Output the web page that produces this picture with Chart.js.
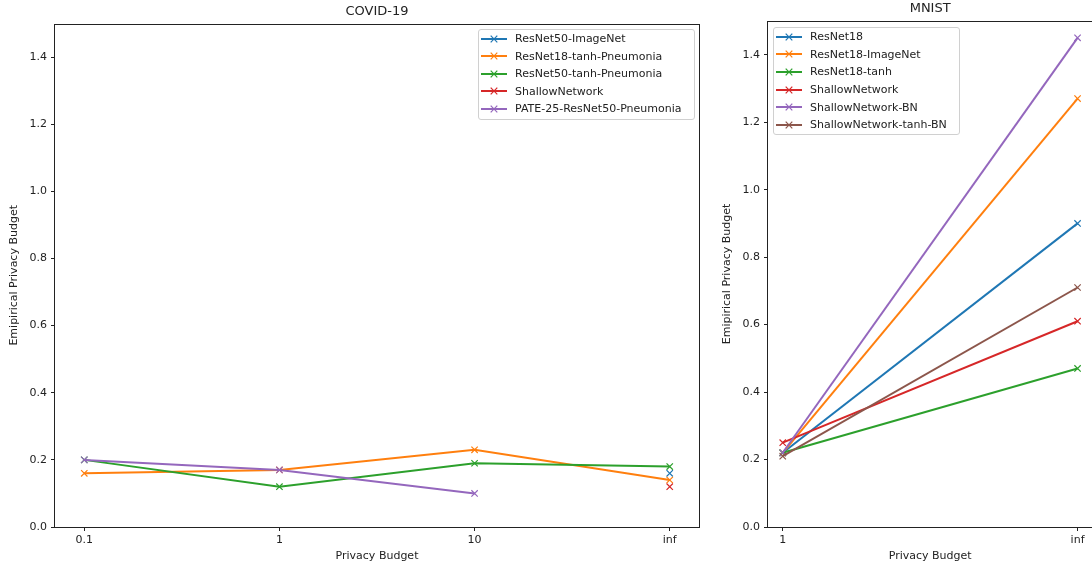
<!DOCTYPE html>
<html>
<head>
<meta charset="utf-8">
<script src="https://cdn.jsdelivr.net/npm/chart.js@4.4.0/dist/chart.umd.min.js"></script>
<style>
  html, body { margin: 0; padding: 0; background: #fff; overflow: hidden; width: 1092px; height: 570px; }
  canvas { position: absolute; top: 0; }
  #covid { left: 0; }
  #mnist { left: 710px; }
  .legend { position: absolute; background: rgba(255,255,255,0.8); border: 1px solid #d0d0d0; border-radius: 3px;
            font-family: "DejaVu Sans", sans-serif; font-size: 11px; color: #222; box-sizing: border-box; }
  .legend .row { display: flex; align-items: center; white-space: nowrap; }
  .legend svg { margin: 0 8px 0 2px; flex: none; }
</style>
</head>
<body>
<canvas id="covid" width="705" height="570"></canvas>
<canvas id="mnist" width="388" height="570"></canvas>
<div id="covidLegend" class="legend" style="left:478px;top:29px;width:217px;height:91px;"></div>
<div id="mnistLegend" class="legend" style="left:773px;top:27px;width:187px;height:108px;"></div>
<script>
// data
const covidBudgets = ['0.1', '1', '10', 'inf'];
const covidNames = ['ResNet50-ImageNet', 'ResNet18-tanh-Pneumonia', 'ResNet50-tanh-Pneumonia', 'ShallowNetwork', 'PATE-25-ResNet50-Pneumonia'];
const covidResNet50ImageNet = [null, null, null, 0.16];
const covidResNet18Tanh = [0.16, 0.17, 0.23, 0.14];
const covidResNet50Tanh = [0.20, 0.12, 0.19, 0.18];
const covidShallow = [null, null, null, 0.12];
const covidPate = [0.20, 0.17, 0.10, null];

const mnistBudgets = ['1', 'inf'];
const mnistNames = ['ResNet18', 'ResNet18-ImageNet', 'ResNet18-tanh', 'ShallowNetwork', 'ShallowNetwork-BN', 'ShallowNetwork-tanh-BN'];
const mnistResNet18 = [0.22, 0.90];
const mnistResNet18ImageNet = [0.22, 1.27];
const mnistResNet18Tanh = [0.22, 0.47];
const mnistShallow = [0.25, 0.61];
const mnistShallowBN = [0.22, 1.45];
const mnistShallowTanhBN = [0.21, 0.71];

const yTickValues = [0, 0.2, 0.4, 0.6, 0.8, 1.0, 1.2, 1.4];
const tab10 = ['#1f77b4', '#ff7f0e', '#2ca02c', '#d62728', '#9467bd', '#8c564b'];

const fontFamily = '"DejaVu Sans", sans-serif';
const ink = '#222';
Chart.defaults.font.family = fontFamily;

// matplotlib style box around the axes
const boxPlugin = {
  id: 'box',
  afterDraw(chart) {
    const a = chart.chartArea, ctx = chart.ctx;
    ctx.save();
    ctx.strokeStyle = ink;
    ctx.lineWidth = 1;
    ctx.strokeRect(Math.round(a.left) - 0.5, Math.round(a.top) + 0.5,
                   Math.round(a.right - a.left) + 1, Math.round(a.bottom - a.top));
    ctx.restore();
  }
};

function makeChart(id, title, labels, names, series, cfg) {
  const margin = 0.05 * (labels.length - 1);
  const datasets = series.map((vals, i) => ({
    label: names[i],
    data: vals.map((v, j) => ({ x: j, y: v })),
    borderColor: tab10[i],
    backgroundColor: tab10[i],
    borderWidth: 2,
    pointStyle: 'crossRot',
    pointRadius: 4.5,
    pointHoverRadius: 4.5,
    pointBorderWidth: 1.2,
    spanGaps: false,
    order: series.length - i
  }));
  return new Chart(document.getElementById(id), {
    type: 'line',
    data: { datasets },
    options: {
      responsive: false,
      animation: false,
      devicePixelRatio: 1,
      layout: { padding: { left: 0, right: cfg.rightPad, top: 0, bottom: 0 } },
      plugins: {
        legend: { display: false },
        tooltip: { enabled: false },
        title: {
          display: true, text: title, fullSize: false, color: ink,
          font: { size: 13, weight: 'normal', family: fontFamily },
          padding: cfg.titlePad
        }
      },
      scales: {
        x: {
          type: 'linear',
          min: -margin,
          max: labels.length - 1 + margin,
          afterBuildTicks: s => { s.ticks = labels.map((_, j) => ({ value: j })); },
          afterFit: s => { s.height = 43; },
          ticks: { callback: (v, i) => labels[i], color: ink, font: { size: 11 }, padding: 3, maxRotation: 0, autoSkip: false },
          grid: { display: true, drawOnChartArea: false, drawTicks: true, tickLength: 4, color: ink },
          border: { display: false },
          title: { display: true, text: 'Privacy Budget', color: ink, font: { size: 11 }, padding: { top: 0, bottom: 7 } }
        },
        y: {
          min: 0,
          max: 1.5,
          afterBuildTicks: s => { s.ticks = yTickValues.map(v => ({ value: v })); },
          afterFit: s => { s.width = cfg.yWidth; },
          ticks: { callback: v => v.toFixed(1), color: ink, font: { size: 11 }, padding: 4 },
          grid: { display: true, drawOnChartArea: false, drawTicks: true, tickLength: 4, color: ink },
          border: { display: false },
          title: { display: true, text: 'Emipirical Privacy Budget', color: ink, font: { size: 11 }, padding: { top: cfg.yTitlePad, bottom: 0 } }
        }
      }
    },
    plugins: [boxPlugin]
  });
}

function makeLegend(id, names, rowHeight) {
  const box = document.getElementById(id);
  names.forEach((name, i) => {
    const row = document.createElement('div');
    row.className = 'row';
    row.style.height = rowHeight + 'px';
    const c = tab10[i];
    row.innerHTML =
      '<svg width="26" height="10" viewBox="0 0 26 10">' +
      '<line x1="0" y1="5" x2="26" y2="5" stroke="' + c + '" stroke-width="2"/>' +
      '<line x1="9.7" y1="1.7" x2="16.3" y2="8.3" stroke="' + c + '" stroke-width="1.2"/>' +
      '<line x1="9.7" y1="8.3" x2="16.3" y2="1.7" stroke="' + c + '" stroke-width="1.2"/>' +
      '</svg><span>' + name + '</span>';
    box.appendChild(row);
  });
}

makeChart('covid', 'COVID-19', covidBudgets, covidNames,
  [covidResNet50ImageNet, covidResNet18Tanh, covidResNet50Tanh, covidShallow, covidPate],
  { rightPad: 6, yWidth: 55, yTitlePad: 8, titlePad: { top: 4, bottom: 4 } });

makeChart('mnist', 'MNIST', mnistBudgets, mnistNames,
  [mnistResNet18, mnistResNet18ImageNet, mnistResNet18Tanh, mnistShallow, mnistShallowBN, mnistShallowTanhBN],
  { rightPad: 0, yWidth: 58, yTitlePad: 11, titlePad: { top: 1, bottom: 4.4 } });

makeLegend('covidLegend', covidNames, 17.5);
makeLegend('mnistLegend', mnistNames, 17.6);
</script>
</body>
</html>
